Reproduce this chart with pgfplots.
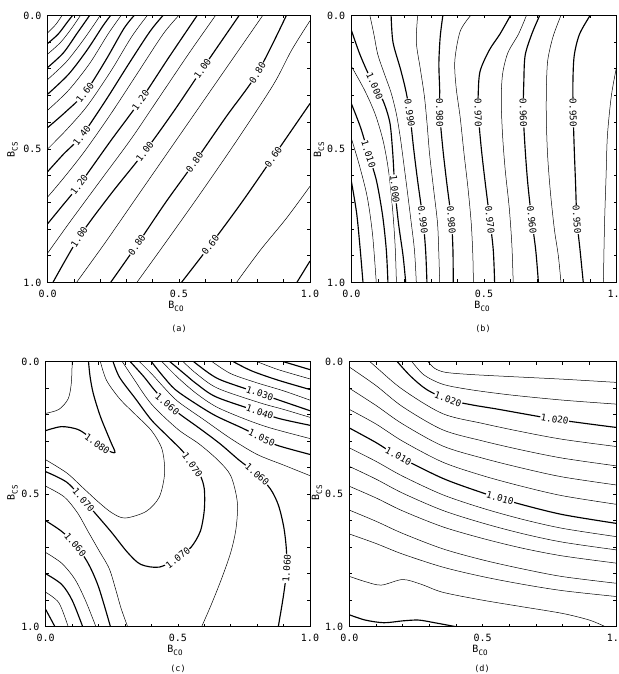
\documentclass[border=0pt]{standalone}
\usepackage{pgfplots}
\pgfplotsset{compat=1.18}
\usepackage{fontspec}
\newfontfamily\mono{DejaVu Sans Mono}
\tikzset{lab/.style={fill=white, inner sep=0.5pt, font=\mono\fontsize{9.3}{10}\selectfont}}
\begin{document}
\begin{tikzpicture}
\pgfplotsset{
  panel/.style={scale only axis, anchor=south west,
    xmin=0,xmax=1,ymin=0,ymax=1, y dir=reverse,
    xtick={0,0.5,1}, ytick={0,0.5,1},
    xticklabels={0.0,0.5,1.0}, yticklabels={0.0,0.5,1.0},
    minor xtick={0.1,0.2,0.3,0.4,0.6,0.7,0.8,0.9},
    minor ytick={0.1,0.2,0.3,0.4,0.6,0.7,0.8,0.9},
    tick align=inside, tick pos=both, xticklabel pos=lower, yticklabel pos=left,
    major tick length=3pt, minor tick length=3pt,
    every tick/.style={black, line width=0.6pt},
    axis line style={line width=0.8pt},
    ticklabel style={font=\mono\fontsize{10}{12}\selectfont, inner sep=1pt},
    xticklabel style={yshift=-6pt}, yticklabel style={xshift=-5pt},
    clip=true},
  T/.style={black, line width=1.15pt, smooth},
  t/.style={black, line width=0.5pt, smooth},
}
% ---------------- (a) ----------------
\begin{axis}[panel, width=262.3pt, height=267pt, at={(47.7pt,391.6pt)}]
\addplot[T] coordinates {(0.95,1.0) (1.0,0.92)};
\addplot[t] coordinates {(0.72,1.0) (0.81,0.88) (0.91,0.76) (1.0,0.64)};
\addplot[T] coordinates {(0.51,1.0) (0.62,0.86) (0.74,0.70) (0.86,0.53) (1.0,0.33)};
\addplot[t] coordinates {(0.34,1.0) (0.45,0.85) (0.58,0.67) (0.72,0.47) (0.86,0.26) (0.93,0.13) (1.0,0.02)};
\addplot[T] coordinates {(0.24,1.0) (0.34,0.86) (0.45,0.70) (0.56,0.55) (0.68,0.38) (0.80,0.215) (0.91,0.0)};
\addplot[t] coordinates {(0.11,1.0) (0.22,0.85) (0.34,0.68) (0.46,0.51) (0.58,0.34) (0.70,0.17) (0.82,0.0)};
\addplot[T] coordinates {(0.02,1.0) (0.12,0.83) (0.24,0.67) (0.37,0.51) (0.48,0.36) (0.59,0.20) (0.73,0.0)};
\addplot[t] coordinates {(0.0,0.89) (0.08,0.78) (0.20,0.62) (0.32,0.46) (0.43,0.30) (0.54,0.14) (0.64,0.0)};
\addplot[T] coordinates {(0.0,0.78) (0.05,0.72) (0.12,0.635) (0.24,0.47) (0.354,0.318) (0.46,0.16) (0.57,0.0)};
\addplot[t] coordinates {(0.0,0.68) (0.06,0.61) (0.14,0.51) (0.24,0.37) (0.34,0.22) (0.44,0.07) (0.50,0.0)};
\addplot[T] coordinates {(0.0,0.585) (0.06,0.52) (0.13,0.45) (0.22,0.32) (0.31,0.18) (0.39,0.06) (0.44,0.0)};
\addplot[t] coordinates {(0.0,0.50) (0.07,0.43) (0.15,0.34) (0.24,0.21) (0.32,0.08) (0.38,0.0)};
\addplot[T] coordinates {(0.0,0.42) (0.07,0.36) (0.142,0.29) (0.22,0.17) (0.29,0.05) (0.33,0.0)};
\addplot[t] coordinates {(0.0,0.355) (0.08,0.28) (0.16,0.18) (0.23,0.07) (0.28,0.0)};
\addplot[T] coordinates {(0.0,0.295) (0.08,0.22) (0.15,0.13) (0.21,0.04) (0.24,0.0)};
\addplot[t] coordinates {(0.0,0.24) (0.07,0.175) (0.13,0.10) (0.18,0.03) (0.20,0.0)};
\addplot[T] coordinates {(0.0,0.195) (0.06,0.14) (0.11,0.07) (0.16,0.0)};
\addplot[t] coordinates {(0.0,0.145) (0.05,0.10) (0.09,0.05) (0.125,0.0)};
\addplot[T] coordinates {(0.0,0.105) (0.04,0.07) (0.075,0.025) (0.095,0.0)};
\addplot[t] coordinates {(0.0,0.065) (0.03,0.035) (0.055,0.0)};
\node[lab,rotate=52] at (axis cs:0.142,0.29) {1.60};
\node[lab,rotate=52] at (axis cs:0.13,0.45) {1.40};
\node[lab,rotate=53] at (axis cs:0.12,0.635) {1.20};
\node[lab,rotate=55] at (axis cs:0.354,0.318) {1.20};
\node[lab,rotate=57] at (axis cs:0.12,0.83) {1.00};
\node[lab,rotate=53] at (axis cs:0.37,0.51) {1.00};
\node[lab,rotate=55] at (axis cs:0.59,0.20) {1.00};
\node[lab,rotate=55] at (axis cs:0.34,0.86) {0.80};
\node[lab,rotate=55] at (axis cs:0.56,0.55) {0.80};
\node[lab,rotate=58] at (axis cs:0.80,0.215) {0.80};
\node[lab,rotate=53] at (axis cs:0.62,0.86) {0.60};
\node[lab,rotate=55] at (axis cs:0.86,0.53) {0.60};
\end{axis}
% ---------------- (b) ----------------
\begin{axis}[panel, width=265.4pt, height=267pt, at={(351.3pt,391.6pt)}]
\addplot[T] coordinates {(0,0.62) (0.02,0.74) (0.033,0.87) (0.044,1.0)};
\addplot[t] coordinates {(0,0.46) (0.03,0.56) (0.06,0.68) (0.08,0.82) (0.094,1.0)};
\addplot[T] coordinates {(0,0.33) (0.035,0.42) (0.065,0.52) (0.095,0.62) (0.118,0.75) (0.132,0.88) (0.138,1.0)};
\addplot[t] coordinates {(0,0.19) (0.05,0.28) (0.09,0.37) (0.12,0.47) (0.14,0.58) (0.155,0.72) (0.165,0.86) (0.17,1.0)};
\addplot[T] coordinates {(0,0.055) (0.03,0.14) (0.06,0.21) (0.088,0.265) (0.12,0.32) (0.145,0.40) (0.155,0.50) (0.16,0.58) (0.164,0.65) (0.178,0.78) (0.195,0.90) (0.205,1.0)};
\addplot[t] coordinates {(0.07,0.0) (0.085,0.07) (0.10,0.147) (0.125,0.22) (0.15,0.29) (0.17,0.37) (0.185,0.46) (0.197,0.55) (0.21,0.65) (0.225,0.77) (0.238,0.88) (0.245,1.0)};
\addplot[T] coordinates {(0.15,0.0) (0.157,0.10) (0.185,0.20) (0.205,0.28) (0.22,0.365) (0.235,0.50) (0.25,0.62) (0.27,0.765) (0.28,0.88) (0.285,1.0)};
\addplot[t] coordinates {(0.25,0.0) (0.245,0.10) (0.26,0.20) (0.275,0.30) (0.285,0.40) (0.295,0.52) (0.31,0.65) (0.325,0.78) (0.33,0.90) (0.333,1.0)};
\addplot[T] coordinates {(0.345,0.0) (0.335,0.08) (0.33,0.18) (0.333,0.28) (0.333,0.365) (0.345,0.50) (0.36,0.63) (0.377,0.765) (0.383,0.88) (0.384,1.0)};
\addplot[t] coordinates {(0.45,0.0) (0.41,0.06) (0.39,0.17) (0.395,0.27) (0.41,0.38) (0.425,0.52) (0.44,0.65) (0.452,0.78) (0.458,0.90) (0.46,1.0)};
\addplot[T] coordinates {(0.60,0.0) (0.56,0.07) (0.52,0.13) (0.485,0.21) (0.478,0.30) (0.478,0.365) (0.49,0.50) (0.505,0.63) (0.522,0.765) (0.535,0.88) (0.54,1.0)};
\addplot[t] coordinates {(0.66,0.0) (0.63,0.07) (0.59,0.14) (0.57,0.22) (0.565,0.32) (0.57,0.45) (0.58,0.58) (0.595,0.72) (0.605,0.86) (0.61,1.0)};
\addplot[T] coordinates {(0.71,0.0) (0.68,0.07) (0.655,0.15) (0.65,0.25) (0.648,0.365) (0.655,0.50) (0.665,0.63) (0.68,0.765) (0.695,0.88) (0.705,1.0)};
\addplot[t] coordinates {(0.79,0.0) (0.76,0.08) (0.74,0.17) (0.735,0.28) (0.735,0.40) (0.74,0.53) (0.75,0.66) (0.765,0.80) (0.78,0.90) (0.79,1.0)};
\addplot[T] coordinates {(0.90,0.0) (0.86,0.07) (0.84,0.15) (0.835,0.25) (0.836,0.365) (0.84,0.50) (0.845,0.63) (0.85,0.765) (0.862,0.88) (0.874,1.0)};
\addplot[t] coordinates {(1.0,0.19) (0.98,0.30) (0.965,0.45) (0.96,0.60) (0.955,0.75) (0.952,0.88) (0.95,1.0)};
\node[lab,rotate=-66] at (axis cs:0.088,0.265) {1.000};
\node[lab,rotate=-72] at (axis cs:0.065,0.52) {1.010};
\node[lab,rotate=-84] at (axis cs:0.164,0.65) {1.000};
\node[lab,rotate=-82] at (axis cs:0.22,0.365) {0.990};
\node[lab,rotate=-83] at (axis cs:0.27,0.765) {0.990};
\node[lab,rotate=-89] at (axis cs:0.333,0.365) {0.980};
\node[lab,rotate=-85] at (axis cs:0.377,0.765) {0.980};
\node[lab,rotate=-89] at (axis cs:0.478,0.365) {0.970};
\node[lab,rotate=-84] at (axis cs:0.522,0.765) {0.970};
\node[lab,rotate=-89] at (axis cs:0.648,0.365) {0.960};
\node[lab,rotate=-84] at (axis cs:0.68,0.765) {0.960};
\node[lab,rotate=-89] at (axis cs:0.836,0.365) {0.950};
\node[lab,rotate=-86] at (axis cs:0.85,0.765) {0.950};
\end{axis}
% ---------------- (c) ----------------
\begin{axis}[panel, width=264.3pt, height=265pt, at={(45.7pt,47.3pt)}]
\addplot[t] coordinates {(0.10,0.0) (0.097,0.08) (0.085,0.14) (0.05,0.18) (0.0,0.195)};
\addplot[T] coordinates {(0.0,0.26) (0.06,0.245) (0.12,0.255) (0.16,0.28) (0.195,0.31) (0.235,0.335) (0.262,0.342) (0.245,0.30) (0.207,0.207) (0.18,0.12) (0.168,0.057) (0.162,0.0)};
\addplot[t] coordinates {(0.207,0.0) (0.23,0.07) (0.28,0.14) (0.34,0.20) (0.40,0.26) (0.44,0.33) (0.45,0.42) (0.43,0.51) (0.38,0.565) (0.30,0.59) (0.25,0.57) (0.20,0.53) (0.14,0.475) (0.08,0.42) (0.0,0.37)};
\addplot[T] coordinates {(0.0,0.415) (0.08,0.455) (0.143,0.522) (0.19,0.575) (0.25,0.645) (0.31,0.72) (0.36,0.765) (0.43,0.775) (0.50,0.74) (0.55,0.70) (0.585,0.64) (0.60,0.56) (0.60,0.48) (0.585,0.43) (0.555,0.39) (0.52,0.34) (0.46,0.28) (0.40,0.22) (0.34,0.14) (0.28,0.06) (0.255,0.0)};
\addplot[t] coordinates {(0.29,0.0) (0.33,0.06) (0.40,0.16) (0.50,0.255) (0.58,0.31) (0.65,0.37) (0.70,0.43) (0.725,0.53) (0.72,0.63) (0.70,0.72) (0.665,0.82) (0.625,0.92) (0.59,1.0)};
\addplot[T] coordinates {(0.32,0.0) (0.37,0.055) (0.41,0.105) (0.46,0.16) (0.51,0.20) (0.58,0.25) (0.66,0.31) (0.73,0.37) (0.80,0.425) (0.85,0.48) (0.88,0.54) (0.90,0.62) (0.91,0.70) (0.912,0.78) (0.90,0.88) (0.88,1.0)};
\addplot[t] coordinates {(0.355,0.0) (0.40,0.045) (0.45,0.10) (0.50,0.15) (0.60,0.22) (0.70,0.29) (0.80,0.35) (0.90,0.39) (1.0,0.43)};
\addplot[T] coordinates {(0.40,0.0) (0.44,0.05) (0.49,0.105) (0.57,0.16) (0.645,0.205) (0.747,0.252) (0.817,0.287) (0.874,0.315) (1.0,0.35)};
\addplot[t] coordinates {(0.44,0.0) (0.50,0.06) (0.57,0.12) (0.645,0.17) (0.75,0.215) (0.85,0.25) (1.0,0.29)};
\addplot[T] coordinates {(0.47,0.0) (0.53,0.05) (0.57,0.083) (0.645,0.133) (0.81,0.19) (0.885,0.215) (1.0,0.24)};
\addplot[t] coordinates {(0.52,0.0) (0.57,0.045) (0.65,0.10) (0.81,0.155) (0.9,0.18) (1.0,0.21)};
\addplot[T] coordinates {(0.56,0.0) (0.62,0.045) (0.67,0.072) (0.81,0.12) (0.874,0.142) (1.0,0.185)};
\addplot[t] coordinates {(0.63,0.0) (0.70,0.045) (0.80,0.08) (0.90,0.11) (1.0,0.145)};
\addplot[T] coordinates {(0.71,0.0) (0.78,0.035) (0.88,0.07) (1.0,0.105)};
\addplot[t] coordinates {(0.80,0.0) (0.88,0.03) (1.0,0.065)};
\addplot[T] coordinates {(0.90,0.0) (1.0,0.03)};
\addplot[t] coordinates {(0.0,0.47) (0.07,0.51) (0.12,0.57) (0.16,0.64) (0.20,0.71) (0.24,0.78) (0.265,0.86) (0.285,0.93) (0.31,1.0)};
\addplot[T] coordinates {(0.0,0.60) (0.06,0.64) (0.112,0.69) (0.16,0.76) (0.20,0.85) (0.245,1.0)};
\addplot[t] coordinates {(0.0,0.72) (0.06,0.76) (0.11,0.82) (0.15,0.90) (0.19,1.0)};
\addplot[T] coordinates {(0.0,0.80) (0.06,0.84) (0.10,0.90) (0.14,1.0)};
\addplot[t] coordinates {(0.0,0.87) (0.05,0.91) (0.085,1.0)};
\addplot[T] coordinates {(0.0,0.935) (0.035,1.0)};
\node[lab,rotate=-19] at (axis cs:0.81,0.12) {1.030};
\node[lab,rotate=-19] at (axis cs:0.81,0.19) {1.040};
\node[lab,rotate=-25] at (axis cs:0.817,0.287) {1.050};
\node[lab,rotate=-40] at (axis cs:0.46,0.16) {1.060};
\node[lab,rotate=-41] at (axis cs:0.80,0.425) {1.060};
\node[lab,rotate=86] at (axis cs:0.912,0.78) {1.060};
\node[lab,rotate=-49] at (axis cs:0.143,0.522) {1.070};
\node[lab,rotate=-55] at (axis cs:0.555,0.39) {1.070};
\node[lab,rotate=38] at (axis cs:0.50,0.74) {1.070};
\node[lab,rotate=-35] at (axis cs:0.195,0.31) {1.080};
\node[lab,rotate=-50] at (axis cs:0.112,0.69) {1.060};
\end{axis}
% ---------------- (d) ----------------
\begin{axis}[panel, width=266.7pt, height=265pt, at={(349.3pt,47.3pt)}]
\addplot[t] coordinates {(0.295,0.0) (0.32,0.025) (0.36,0.04) (0.45,0.048) (0.6,0.056) (0.8,0.066) (1.0,0.078)};
\addplot[t] coordinates {(0.235,0.0) (0.28,0.05) (0.35,0.085) (0.45,0.105) (0.6,0.125) (0.8,0.145) (1.0,0.16)};
\addplot[T] coordinates {(0.18,0.0) (0.23,0.055) (0.29,0.105) (0.37,0.143) (0.46,0.163) (0.55,0.178) (0.65,0.196) (0.77,0.217) (0.9,0.235) (1.0,0.248)};
\addplot[t] coordinates {(0.0,-0.07) (0.1,0.02) (0.2,0.105) (0.35,0.196) (0.5,0.233) (0.65,0.265) (0.8,0.293) (1.0,0.32)};
\addplot[t] coordinates {(0.0,0.02) (0.1,0.09) (0.2,0.17) (0.35,0.257) (0.5,0.299) (0.65,0.334) (0.8,0.364) (1.0,0.393)};
\addplot[t] coordinates {(0.0,0.10) (0.1,0.165) (0.2,0.235) (0.35,0.318) (0.5,0.364) (0.65,0.402) (0.8,0.435) (1.0,0.465)};
\addplot[t] coordinates {(0.0,0.18) (0.1,0.235) (0.2,0.30) (0.35,0.379) (0.5,0.43) (0.65,0.471) (0.8,0.506) (1.0,0.538)};
\addplot[T] coordinates {(0.0,0.25) (0.1,0.305) (0.184,0.357) (0.35,0.44) (0.5,0.495) (0.565,0.515) (0.65,0.54) (0.8,0.577) (1.0,0.61)};
\addplot[t] coordinates {(0.0,0.325) (0.1,0.376) (0.2,0.432) (0.35,0.502) (0.5,0.553) (0.65,0.595) (0.8,0.629) (1.0,0.66)};
\addplot[t] coordinates {(0.0,0.395) (0.1,0.443) (0.2,0.496) (0.35,0.561) (0.5,0.609) (0.65,0.649) (0.8,0.681) (1.0,0.71)};
\addplot[t] coordinates {(0.0,0.47) (0.1,0.514) (0.2,0.563) (0.35,0.623) (0.5,0.667) (0.65,0.704) (0.8,0.733) (1.0,0.76)};
\addplot[t] coordinates {(0.0,0.56) (0.1,0.602) (0.2,0.648) (0.35,0.706) (0.5,0.748) (0.65,0.782) (0.8,0.811) (1.0,0.836)};
\addplot[t] coordinates {(0.0,0.65) (0.1,0.686) (0.2,0.726) (0.35,0.775) (0.5,0.811) (0.65,0.84) (0.8,0.864) (1.0,0.886)};
\addplot[t] coordinates {(0.0,0.81) (0.06,0.83) (0.12,0.843) (0.2,0.822) (0.27,0.84) (0.35,0.87) (0.5,0.90) (0.65,0.925) (0.8,0.95) (0.9,0.975) (0.96,1.0)};
\addplot[T] coordinates {(0.0,0.955) (0.06,0.975) (0.13,0.985) (0.2,0.978) (0.26,0.975) (0.32,0.985) (0.40,1.0)};
\node[lab,rotate=-20] at (axis cs:0.37,0.143) {1.020};
\node[lab,rotate=-9] at (axis cs:0.77,0.217) {1.020};
\node[lab,rotate=-28] at (axis cs:0.184,0.357) {1.010};
\node[lab,rotate=-16] at (axis cs:0.565,0.515) {1.010};
\end{axis}
% ---------------- outer labels ----------------
\def\lf{\mono\fontsize{10}{12}\selectfont}
\def\sub#1{\raisebox{-0.3em}{\fontsize{7.5}{8}\selectfont #1}}
\node[font=\lf] at (176pt,368pt) {B\sub{CO}};
\node[font=\lf] at (482pt,368pt) {B\sub{CO}};
\node[font=\lf] at (175pt,24pt) {B\sub{CO}};
\node[font=\lf] at (480pt,24pt) {B\sub{CO}};
\node[font=\lf,rotate=90] at (12.5pt,524pt) {B\sub{CS}};
\node[font=\lf,rotate=90] at (319pt,524pt) {B\sub{CS}};
\node[font=\lf,rotate=90] at (12.5pt,181pt) {B\sub{CS}};
\node[font=\lf,rotate=90] at (317pt,181pt) {B\sub{CS}};
\node[font=\mono\fontsize{8.5}{9}\selectfont] at (179pt,345pt) {(a)};
\node[font=\mono\fontsize{8.5}{9}\selectfont] at (483pt,345pt) {(b)};
\node[font=\mono\fontsize{8.5}{9}\selectfont] at (178pt,5pt) {(c)};
\node[font=\mono\fontsize{8.5}{9}\selectfont] at (482pt,5pt) {(d)};
\pgfresetboundingbox
\useasboundingbox (0pt,0pt) rectangle (618pt,674pt);
\end{tikzpicture}
\end{document}
